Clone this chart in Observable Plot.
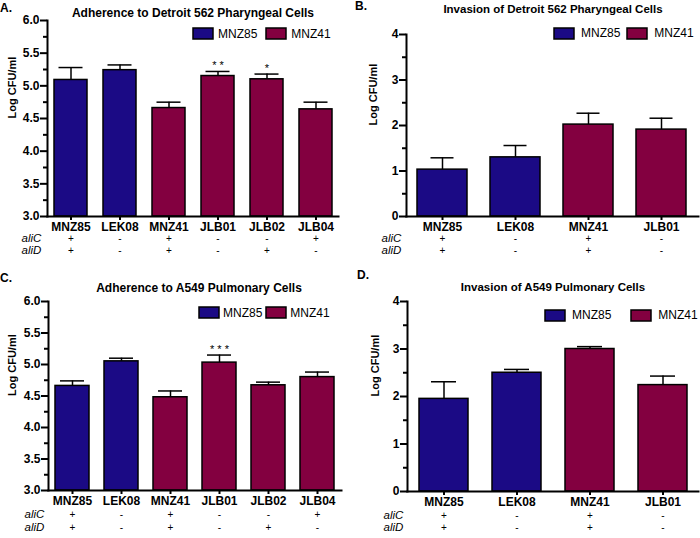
<!DOCTYPE html>
<html><head><meta charset="utf-8">
<script src="https://cdn.jsdelivr.net/npm/d3@7"></script>
<script src="https://cdn.jsdelivr.net/npm/@observablehq/plot@0.6"></script>
<style>
body{margin:0;background:#fff;font-family:"Liberation Sans",Arial,sans-serif;color:#000;}
#root{position:relative;width:700px;height:538px;overflow:hidden;background:#fff;}
.panel{position:absolute;width:350px;height:270px;}
.title{position:absolute;font-weight:bold;white-space:nowrap;transform:translate(-50%,-50%);}
.letter{position:absolute;font-weight:bold;font-size:12px;transform:translateY(-50%);}
</style></head><body><div id="root"></div><script>
// ---- data ----
const groupNames = ["MNZ85", "MNZ41"];
const groupColors = ["#1b0a85", "#830040"];
const yLabel = "Log CFU/ml";

const strainsAdh = ["MNZ85", "LEK08", "MNZ41", "JLB01", "JLB02", "JLB04"];
const groupsAdh = ["MNZ85", "MNZ85", "MNZ41", "MNZ41", "MNZ41", "MNZ41"];
const aliCAdh = ["+", "-", "+", "-", "-", "+"];
const aliDAdh = ["+", "-", "+", "-", "+", "-"];

const strainsInv = ["MNZ85", "LEK08", "MNZ41", "JLB01"];
const groupsInv = ["MNZ85", "MNZ85", "MNZ41", "MNZ41"];
const aliCInv = ["+", "-", "+", "-"];
const aliDInv = ["+", "-", "+", "-"];

const titles = ["Adherence to Detroit 562 Pharyngeal Cells", "Invasion of Detroit 562 Pharyngeal Cells",
                "Adherence to A549 Pulmonary Cells", "Invasion of A549 Pulmonary Cells"];
const letters = ["A.", "B.", "C.", "D."];

const meanA = [5.09, 5.24, 4.66, 5.15, 5.10, 4.64];
const errA  = [5.28, 5.32, 4.75, 5.22, 5.18, 4.75];
const sigA  = ["", "", "", "* *", "*", ""];

const meanB = [1.03, 1.30, 2.02, 1.91];
const errB  = [1.29, 1.56, 2.27, 2.16];

const meanC = [4.66, 5.05, 4.48, 5.03, 4.67, 4.80];
const errC  = [4.74, 5.10, 4.58, 5.15, 4.72, 4.88];
const sigC  = ["", "", "", "* * *", "", ""];

const meanD = [1.95, 2.50, 3.00, 2.24];
const errD  = [2.31, 2.57, 3.05, 2.43];

const adhMajor = [3.0, 3.5, 4.0, 4.5, 5.0, 5.5, 6.0];
const adhMinor = [3.25, 3.75, 4.25, 4.75, 5.25, 5.75];
const invMajor = [0, 1, 2, 3, 4];
const invMinor = [0.5, 1.5, 2.5, 3.5];

// ---- layout ----
const FONT = "Liberation Sans, Arial, sans-serif";
const panels = [
  {strains: strainsAdh, groups: groupsAdh, aliC: aliCAdh, aliD: aliDAdh, mean: meanA, err: errA, sig: sigA,
   yDomain: [3, 6], major: adhMajor, minor: adhMinor, fmt: ".1f",
   left: 0, top: 0, h: 269, mL: 47, mR: 12, mT: 20, mB: 53, pi: 0.33, po: 0.116, cap: 4.5,
   rows: [25, 37.5], aliDx: -26, ylabDx: -35, title: [193, 12.7], titleSize: 12, letter: [0, 8],
   leg: [193, 33.5], legGap: [5, 9]},
  {strains: strainsInv, groups: groupsInv, aliC: aliCInv, aliD: aliDInv, mean: meanB, err: errB, sig: null,
   yDomain: [0, 4], major: invMajor, minor: invMinor, fmt: "d",
   left: 350, top: 0, h: 269, mL: 56, mR: 2, mT: 34, mB: 53, pi: 0.315, po: 0.145, cap: 13.5,
   rows: [25, 37.5], aliDx: -25, ylabDx: -33, title: [203, 9], titleSize: 11.5, letter: [5, 6],
   leg: [204, 33], legGap: [7, 7]},
  {strains: strainsAdh, groups: groupsAdh, aliC: aliCAdh, aliD: aliDAdh, mean: meanC, err: errC, sig: sigC,
   yDomain: [3, 6], major: adhMajor, minor: adhMinor, fmt: ".1f",
   left: 0, top: 268, h: 270, mL: 48, mR: 9, mT: 33, mB: 48, pi: 0.3, po: 0.1, cap: 5,
   rows: [27, 40], aliDx: -24, ylabDx: -36, title: [199, 20], titleSize: 12, letter: [0, 10],
   leg: [199, 44.5], legGap: [4, 4]},
  {strains: strainsInv, groups: groupsInv, aliC: aliCInv, aliD: aliDInv, mean: meanD, err: errD, sig: null,
   yDomain: [0, 4], major: invMajor, minor: invMinor, fmt: "d",
   left: 350, top: 268, h: 270, mL: 57, mR: 2, mT: 33, mB: 47, pi: 0.33, po: 0.15, cap: 12,
   rows: [27.5, 39.5], aliDx: -24, ylabDx: -32, title: [203, 19], titleSize: 11.5, letter: [7, 7],
   leg: [195, 47], legGap: [7, 20]}
];

const root = document.getElementById("root");

panels.forEach((p, k) => {
  const data = p.strains.map((s, i) => ({
    strain: s, group: p.groups[i], mean: p.mean[i], err: p.err[i],
    sig: p.sig ? p.sig[i] : "", aliC: p.aliC[i], aliD: p.aliD[i]
  }));
  const div = document.createElement("div");
  div.className = "panel";
  div.style.left = p.left + "px";
  div.style.top = p.top + "px";
  div.style.height = p.h + "px";

  const chart = Plot.plot({
    width: 350, height: p.h,
    marginLeft: p.mL, marginRight: p.mR, marginTop: p.mT, marginBottom: p.mB,
    style: {position: "absolute", left: "0px", top: "0px", fontFamily: FONT, fontSize: "12px", color: "#000", background: "transparent", overflow: "visible"},
    x: {domain: p.strains, paddingInner: p.pi, paddingOuter: p.po, align: 0.5, label: null},
    y: {domain: p.yDomain, label: null},
    color: {domain: groupNames, range: groupColors},
    marks: [
      Plot.ruleX(data, {x: "strain", y1: "mean", y2: "err", stroke: "black", strokeWidth: 1.5}),
      Plot.tickY(data, {x: "strain", y: "err", stroke: "black", strokeWidth: 1.5, inset: p.cap}),
      Plot.barY(data, {x: "strain", y1: p.yDomain[0], y2: "mean", fill: "group", stroke: "black", strokeWidth: 1.5}),
      Plot.text(data, {x: "strain", y: "err", text: "sig", dy: -6, fontSize: 11, fill: "black"}),
      Plot.axisY({ticks: p.major, tickSize: 7, tickPadding: 1, tickFormat: p.fmt, fontWeight: "bold", fontSize: 12, strokeWidth: 2, label: null}),
      Plot.axisY({ticks: p.minor, tickSize: 4, tickFormat: () => "", strokeWidth: 2, label: null}),
      Plot.axisX({tickSize: 4, tickPadding: 2, fontWeight: "bold", fontSize: 12, strokeWidth: 2, label: null}),
      Plot.frame({anchor: "left", strokeWidth: 2}),
      Plot.frame({anchor: "bottom", strokeWidth: 2}),
      Plot.text(data, {x: "strain", text: "aliC", frameAnchor: "bottom", dy: p.rows[0], fontSize: 10}),
      Plot.text(data, {x: "strain", text: "aliD", frameAnchor: "bottom", dy: p.rows[1], fontSize: 10}),
      Plot.text(["aliC"], {frameAnchor: "bottom-left", textAnchor: "start", dx: p.aliDx, dy: p.rows[0], fontStyle: "italic", fontSize: 11.5}),
      Plot.text(["aliD"], {frameAnchor: "bottom-left", textAnchor: "start", dx: p.aliDx, dy: p.rows[1], fontStyle: "italic", fontSize: 11.5}),
      Plot.text([yLabel], {frameAnchor: "left", rotate: -90, dx: p.ylabDx, fontWeight: "bold", fontSize: 11})
    ]
  });
  div.appendChild(chart);

  const t = document.createElement("div");
  t.className = "title";
  t.textContent = titles[k];
  t.style.fontSize = p.titleSize + "px";
  t.style.left = p.title[0] + "px";
  t.style.top = p.title[1] + "px";
  div.appendChild(t);

  const l = document.createElement("div");
  l.className = "letter";
  l.textContent = letters[k];
  l.style.left = p.letter[0] + "px";
  l.style.top = p.letter[1] + "px";
  div.appendChild(l);

  const leg = Plot.legend({
    color: {type: "categorical", domain: groupNames, range: groupColors},
    swatchWidth: 20, swatchHeight: 11,
    style: {fontSize: "12px", fontFamily: FONT, color: "#000"}
  });
  leg.style.position = "absolute";
  leg.style.left = p.leg[0] + "px";
  leg.style.top = p.leg[1] + "px";
  leg.style.transform = "translateY(-50%)";
  leg.style.minHeight = "0";
  leg.style.margin = "0";
  leg.style.whiteSpace = "nowrap";
  leg.style.flexWrap = "nowrap";
  leg.querySelectorAll("span").forEach(sp => { sp.style.marginRight = p.legGap[1] + "px"; });
  leg.querySelectorAll("svg").forEach(sv => {
    sv.style.marginRight = p.legGap[0] + "px";
    sv.style.overflow = "visible";
    const r = sv.querySelector("rect");
    if (r) { r.setAttribute("stroke", "black"); r.setAttribute("stroke-width", "1.5"); }
  });
  div.appendChild(leg);

  root.appendChild(div);
});
</script></body></html>
